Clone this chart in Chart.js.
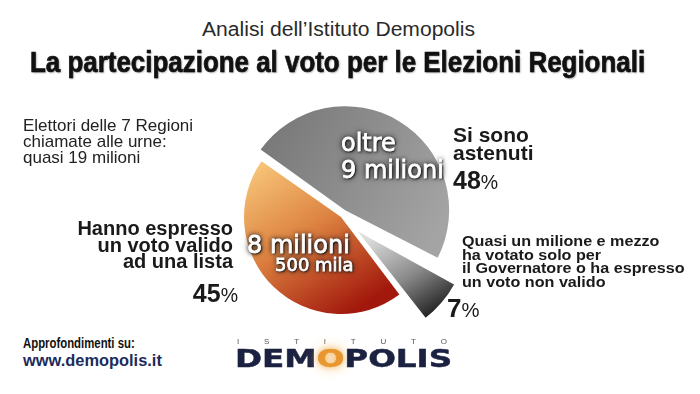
<!DOCTYPE html>
<html>
<head>
<meta charset="utf-8">
<script src="https://cdn.jsdelivr.net/npm/chart.js@4.4.0/dist/chart.umd.min.js"></script>
<style>
  body { margin: 0; width: 700px; height: 394px; background: #fff; position: relative; overflow: hidden;
         font-family: "Liberation Sans", Arial, sans-serif; color: #1a1a1a; }
  .t { position: absolute; white-space: nowrap; }
  .fit { display: inline-block; transform-origin: 0 50%; }
  .b { font-weight: bold; }
  .pc { font-weight: normal; font-size: 0.78em; }
  .in { font-family: "DejaVu Sans", sans-serif; color: #fff; font-size: 24px; line-height: 27px;
        text-shadow: 1px 1px 2px #000, 0 0 4px #222, 0 0 6px #333; -webkit-text-stroke: 0.8px #fff; }
  #pie { position: absolute; left: 191px; top: 67px; }
</style>
</head>
<body>

<canvas id="pie" width="300" height="300"></canvas>

<div class="t" style="left:202px; top:18px; font-size:20px; line-height:22px; color:#2a2a2a;">
  <span class="fit" data-w="273">Analisi dell’Istituto Demopolis</span>
</div>
<div class="t b" style="left:30px; top:46px; font-family:'Liberation Sans Narrow','Liberation Sans',sans-serif; font-size:29px; line-height:32px; color:#111; -webkit-text-stroke:0.7px #111; text-shadow:1px 1px 2px rgba(0,0,0,0.35);">
  <span class="fit" data-w="615">La partecipazione al voto per le Elezioni Regionali</span>
</div>

<div class="t" style="left:23px; top:118px; font-size:17px; line-height:16px; color:#222;">
  Elettori delle 7 Regioni<br>chiamate alle urne:<br>quasi 19 milioni
</div>

<div class="t b" style="right:467px; top:220px; font-size:20px; line-height:16.5px; text-align:right;">
  Hanno espresso<br>un voto valido<br>ad una lista
</div>
<div class="t b" style="right:462px; top:281px; font-size:25px; line-height:25px;">45<span class="pc">%</span></div>

<div class="t b" style="left:453px; top:126px; font-size:21px; line-height:18px;">Si sono<br>astenuti</div>
<div class="t b" style="left:453px; top:168px; font-size:25px; line-height:25px;">48<span class="pc">%</span></div>

<div class="t b" style="left:462px; top:234px; font-size:15.5px; line-height:13.5px;">
  <span class="fit" data-w="223">Quasi un milione e mezzo<br>ha votato solo per<br>il Governatore o ha espresso<br>un voto non valido</span>
</div>
<div class="t b" style="left:447px; top:296px; font-size:26px; line-height:25px;">7<span class="pc">%</span></div>

<div class="t in" style="left:341px; top:130px;">oltre<br>9 milioni</div>
<div class="t in" style="left:247px; top:232px;">8 milioni</div>
<div class="t in" style="left:275px; top:255px; font-size:18px; line-height:20px;">500 mila</div>

<div class="t b" style="left:23px; top:335px; font-family:'Liberation Sans Narrow','Liberation Sans',sans-serif; font-size:14px; line-height:16px; color:#111;">
  <span class="fit" data-w="112">Approfondimenti su:</span>
</div>
<div class="t b" style="left:23px; top:351px; font-size:17px; line-height:20px; color:#1c2b5c;">
  <span class="fit" data-w="139">www.demopolis.it</span>
</div>

<div class="t" style="left:237px; top:337px; width:210px; display:flex; justify-content:space-between; font-size:8px; line-height:10px; color:#555;">
  <span>I</span><span>S</span><span>T</span><span>I</span><span>T</span><span>U</span><span>T</span><span>O</span>
</div>
<div class="t b" style="left:235px; top:347px; font-family:'DejaVu Sans',sans-serif; font-size:24px; line-height:24px; color:#1b2140; -webkit-text-stroke:0.5px #1b2140;">
  <span class="fit" data-w="217">DEM<span style="color:#e8962e; -webkit-text-stroke:0.5px #e8962e; text-shadow:0 0 6px #f2b25c, 0 0 12px #f6c98c;">O</span>POLIS</span>
</div>

<script>
  // dati
  var categories = ['Si sono astenuti', 'Voto solo al Governatore o non valido', 'Voto valido ad una lista'];
  var percentages = [48, 7, 45];

  // allarga o stringe i testi alla larghezza del riferimento
  document.querySelectorAll('.fit').forEach(function (el) {
    var w = parseFloat(el.dataset.w);
    el.style.transform = 'scaleX(' + (w / el.offsetWidth) + ')';
  });

  function sliceFill(context) {
    var chart = context.chart;
    var area = chart.chartArea;
    if (!area) return '#888';
    var c = chart.ctx;
    var cx = (area.left + area.right) / 2;
    var cy = (area.top + area.bottom) / 2;
    var g;
    if (context.dataIndex === 0) {
      g = c.createLinearGradient(cx - 80, cy - 90, cx + 100, cy + 10);
      g.addColorStop(0, '#777777');
      g.addColorStop(1, '#a4a4a4');
    } else if (context.dataIndex === 1) {
      g = c.createLinearGradient(cx + 15, cy + 5, cx + 70, cy + 95);
      g.addColorStop(0, '#dcdcdc');
      g.addColorStop(0.5, '#8a8a8a');
      g.addColorStop(1, '#111');
    } else {
      g = c.createLinearGradient(cx - 85, cy - 50, cx + 10, cy + 96);
      g.addColorStop(0, '#f6c477');
      g.addColorStop(0.45, '#de8442');
      g.addColorStop(1, '#a2180c');
    }
    return g;
  }

  var pieChart = new Chart(document.getElementById('pie'), {
    type: 'pie',
    data: {
      labels: categories,
      datasets: [{
        data: percentages,
        backgroundColor: sliceFill,
        borderWidth: 0,
        offset: [32, 89, 0]
      }]
    },
    options: {
      responsive: false,
      animation: false,
      events: [],
      rotation: 305,
      radius: 97,
      layout: { padding: 0 },
      plugins: { legend: { display: false }, tooltip: { enabled: false } }
    }
  });
</script>
</body>
</html>
